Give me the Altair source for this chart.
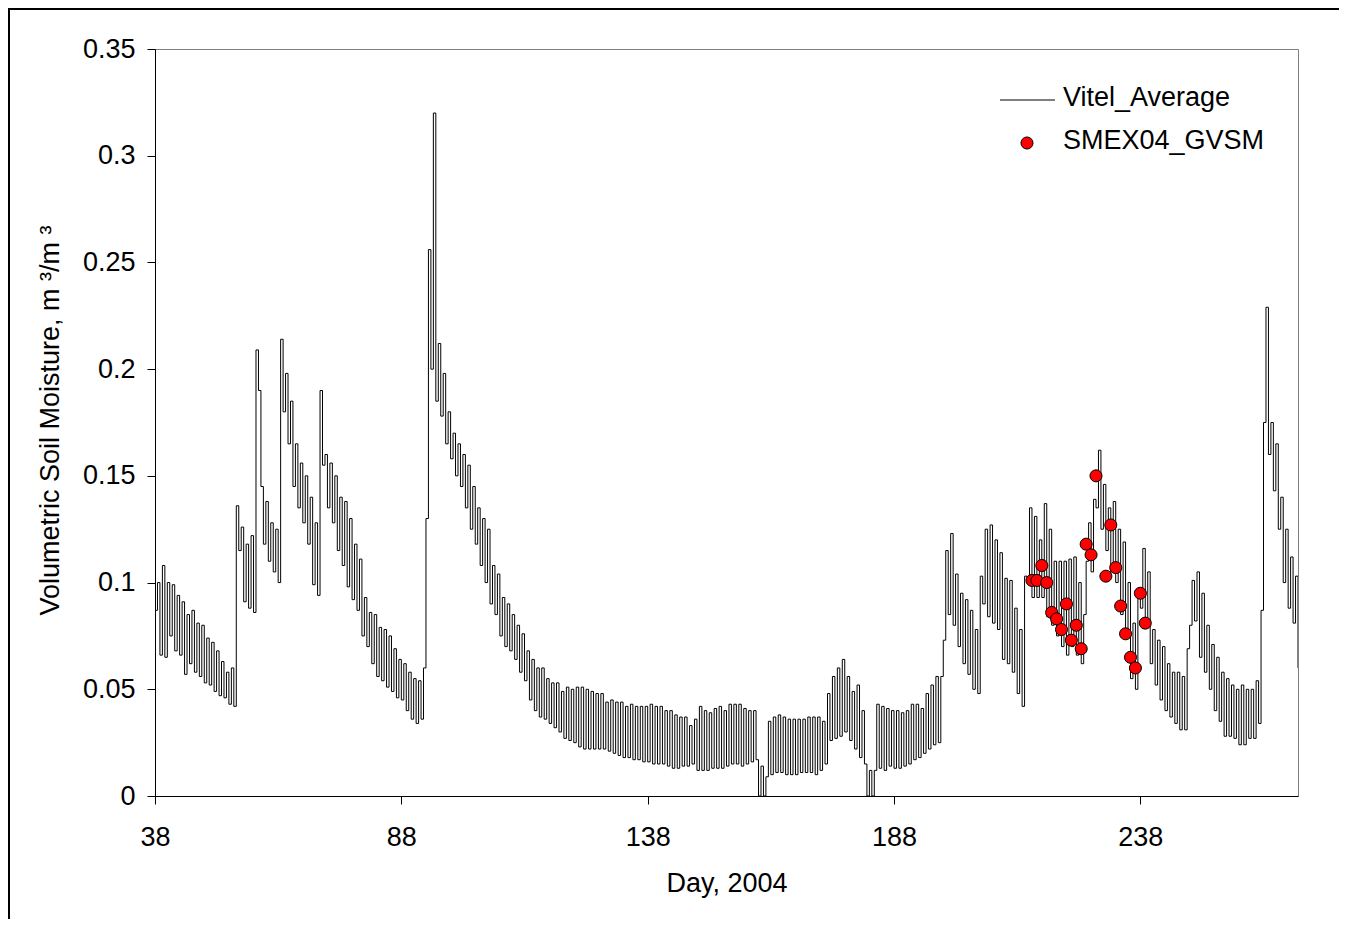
import altair as alt
import pandas as pd

# ---------------- data ----------------
# Day of year 38 .. 270; two readings per day (start of day, half a day later)
DAYS = list(range(38, 271))

VSM_START = [
    0.087, 0.066,                                                        # 38-39
    0.065, 0.075, 0.068, 0.066, 0.057, 0.062, 0.058, 0.056, 0.053, 0.052,  # 40-49
    0.049, 0.047, 0.046, 0.043, 0.042, 0.115, 0.091, 0.088, 0.086, 0.190,  # 50-59
    0.118, 0.110, 0.105, 0.100, 0.180, 0.165, 0.145, 0.135, 0.128, 0.118,  # 60-69
    0.099, 0.094, 0.155, 0.135, 0.128, 0.115, 0.108, 0.098, 0.092, 0.087,  # 70-79
    0.075, 0.070, 0.062, 0.056, 0.054, 0.051, 0.049, 0.046, 0.045, 0.040,  # 80-89
    0.036, 0.034, 0.036, 0.130, 0.200, 0.185, 0.178, 0.165, 0.158, 0.150,  # 90-99
    0.145, 0.135, 0.125, 0.118, 0.108, 0.100, 0.090, 0.085, 0.075, 0.070,  # 100-109
    0.068, 0.064, 0.058, 0.054, 0.045, 0.040, 0.037, 0.036, 0.034, 0.032,  # 110-119
    0.030, 0.027, 0.026, 0.025, 0.023, 0.022, 0.022, 0.022, 0.022, 0.022,  # 120-129
    0.021, 0.020, 0.019, 0.018, 0.018, 0.017, 0.017, 0.016, 0.016, 0.015,  # 130-139
    0.015, 0.015, 0.014, 0.013, 0.013, 0.014, 0.014, 0.015, 0.012, 0.012,  # 140-149
    0.012, 0.013, 0.013, 0.013, 0.014, 0.015, 0.015, 0.014, 0.015, 0.016,  # 150-159
    0.017, 0.014, 0.009, 0.010, 0.011, 0.011, 0.010, 0.010, 0.010, 0.011,  # 160-169
    0.011, 0.011, 0.010, 0.012, 0.015, 0.026, 0.027, 0.028, 0.030, 0.026,  # 170-179
    0.022, 0.018, 0.015, 0.012, 0.012, 0.013, 0.012, 0.014, 0.013, 0.013,  # 180-189
    0.014, 0.015, 0.017, 0.018, 0.020, 0.022, 0.024, 0.025, 0.073, 0.085,  # 190-199
    0.080, 0.070, 0.062, 0.057, 0.050, 0.048, 0.090, 0.084, 0.081, 0.078,  # 200-209
    0.064, 0.062, 0.058, 0.048, 0.042, 0.100, 0.093, 0.093, 0.093, 0.084,  # 210-219
    0.080, 0.075, 0.070, 0.066, 0.070, 0.066, 0.062, 0.110, 0.105, 0.135,  # 220-229
    0.125, 0.115, 0.105, 0.100, 0.085, 0.075, 0.055, 0.050, 0.088, 0.081,  # 230-239
    0.062, 0.052, 0.045, 0.040, 0.037, 0.034, 0.031, 0.031, 0.080, 0.082,  # 240-249
    0.065, 0.058, 0.050, 0.040, 0.035, 0.028, 0.028, 0.027, 0.024, 0.024,  # 250-259
    0.027, 0.027, 0.034, 0.175, 0.160, 0.143, 0.125, 0.100, 0.088, 0.081,  # 260-269
    0.060,                                                               # 270
]

VSM_HALF = [
    0.100, 0.108,                                                        # 38-39
    0.100, 0.099, 0.094, 0.091, 0.085, 0.087, 0.081, 0.080, 0.074, 0.072,  # 40-49
    0.068, 0.063, 0.058, 0.060, 0.136, 0.126, 0.118, 0.122, 0.209, 0.145,  # 50-59
    0.138, 0.128, 0.125, 0.214, 0.198, 0.185, 0.165, 0.156, 0.150, 0.140,  # 60-69
    0.128, 0.190, 0.160, 0.156, 0.150, 0.140, 0.138, 0.130, 0.118, 0.111,  # 70-79
    0.093, 0.086, 0.085, 0.079, 0.078, 0.075, 0.069, 0.064, 0.062, 0.058,  # 80-89
    0.055, 0.054, 0.060, 0.256, 0.320, 0.212, 0.198, 0.180, 0.170, 0.165,  # 90-99
    0.160, 0.155, 0.145, 0.135, 0.130, 0.125, 0.108, 0.104, 0.093, 0.090,  # 100-109
    0.085, 0.080, 0.076, 0.068, 0.064, 0.060, 0.060, 0.055, 0.053, 0.053,  # 110-119
    0.049, 0.051, 0.050, 0.051, 0.051, 0.050, 0.049, 0.048, 0.048, 0.044,  # 120-129
    0.045, 0.044, 0.044, 0.042, 0.043, 0.042, 0.042, 0.042, 0.043, 0.042,  # 130-139
    0.042, 0.040, 0.040, 0.038, 0.037, 0.037, 0.033, 0.036, 0.042, 0.040,  # 140-149
    0.039, 0.041, 0.042, 0.040, 0.043, 0.043, 0.043, 0.041, 0.040, 0.040,  # 150-159
    0.000, 0.000, 0.035, 0.037, 0.038, 0.037, 0.036, 0.036, 0.036, 0.036,  # 160-169
    0.037, 0.037, 0.037, 0.035, 0.048, 0.056, 0.060, 0.064, 0.056, 0.049,  # 170-179
    0.052, 0.040, 0.000, 0.000, 0.043, 0.042, 0.041, 0.040, 0.040, 0.039,  # 180-189
    0.040, 0.043, 0.043, 0.041, 0.048, 0.052, 0.056, 0.056, 0.115, 0.123,  # 190-199
    0.104, 0.095, 0.092, 0.087, 0.078, 0.103, 0.125, 0.127, 0.120, 0.114,  # 200-209
    0.102, 0.101, 0.088, 0.078, 0.103, 0.135, 0.131, 0.120, 0.137, 0.125,  # 210-219
    0.110, 0.110, 0.110, 0.111, 0.112, 0.100, 0.085, 0.128, 0.139, 0.162,  # 220-229
    0.146, 0.135, 0.138, 0.125, 0.119, 0.100, 0.081, 0.097, 0.116, 0.105,  # 230-239
    0.078, 0.073, 0.070, 0.062, 0.058, 0.058, 0.056, 0.069, 0.101, 0.105,  # 240-249
    0.095, 0.080, 0.071, 0.065, 0.058, 0.055, 0.052, 0.050, 0.052, 0.050,  # 250-259
    0.050, 0.054, 0.087, 0.229, 0.175, 0.165, 0.140, 0.125, 0.112, 0.103,  # 260-269
    0.060,                                                               # 270
]

# SMEX04 ground-based volumetric soil moisture samples
SMEX_DAYS = [216, 217, 218, 219, 220, 221, 222, 223, 224, 225, 226, 227, 228, 229,
             231, 232, 233, 234, 235, 236, 237, 238, 239]
SMEX_VSM = [0.101, 0.101, 0.108, 0.100, 0.086, 0.083, 0.078, 0.090, 0.073, 0.080,
            0.069, 0.118, 0.113, 0.150, 0.103, 0.127, 0.107, 0.089, 0.076, 0.065,
            0.060, 0.095, 0.081]

X_TICKS = [38, 88, 138, 188, 238]
Y_TICKS = [0, 0.05, 0.1, 0.15, 0.2, 0.25, 0.3, 0.35]

# ---------------- build tables ----------------
rows = []
for d, a, b in zip(DAYS, VSM_START, VSM_HALF):
    rows.append({"day": d, "vsm": a})
    rows.append({"day": d + 0.5, "vsm": b})
line_df = pd.DataFrame(rows)
pts_df = pd.DataFrame({"day": SMEX_DAYS, "vsm": SMEX_VSM})
one = pd.DataFrame({"k": [0]})

FONT = "Liberation Sans"
FS = 27
W, H = 1143, 747
DOT = 145

xenc = alt.X(
    "day:Q",
    scale=alt.Scale(domain=[38, 270], nice=False, zero=False),
    axis=alt.Axis(values=X_TICKS, title="Day, 2004", labelFlush=False,
                  labelOverlap=False, labelPadding=20, titleY=87,
                  titleBaseline="middle"),
)
yenc = alt.Y(
    "vsm:Q",
    scale=alt.Scale(domain=[0, 0.35], nice=False),
    axis=alt.Axis(values=Y_TICKS, format=".2~f",
                  title="Volumetric Soil Moisture, m \u00b3/m \u00b3",
                  labelFlush=False, labelOverlap=False, labelPadding=12,
                  titleX=-105, titleY=371, titleBaseline="middle"),
)

line = alt.Chart(line_df).mark_line(
    color="black", strokeWidth=1, interpolate="step-after", clip=True
).encode(x=xenc, y=yenc)

pts = alt.Chart(pts_df).mark_circle(
    color="#FF0000", stroke="black", strokeWidth=1, size=DOT, opacity=1
).encode(x="day:Q", y="vsm:Q")

# legend (drawn by hand, top right of plot area)
leg_line = alt.Chart(one).mark_rule(color="black", strokeWidth=1).encode(
    x=alt.value(845), x2=alt.value(900), y=alt.value(51)
)
leg_dot = alt.Chart(one).mark_circle(
    color="#FF0000", stroke="black", strokeWidth=1, size=DOT, opacity=1
).encode(x=alt.value(872), y=alt.value(94))
leg_t1 = alt.Chart(one).mark_text(
    align="left", baseline="middle", font=FONT, fontSize=FS, color="black"
).encode(x=alt.value(908), y=alt.value(49), text=alt.value("Vitel_Average"))
leg_t2 = alt.Chart(one).mark_text(
    align="left", baseline="middle", font=FONT, fontSize=FS, color="black"
).encode(x=alt.value(908), y=alt.value(92), text=alt.value("SMEX04_GVSM"))

# outer frame of the figure: only its left and top edges fall inside the picture
frame_left = alt.Chart(one).mark_rule(color="black", strokeWidth=2).encode(
    x=alt.value(-146), y=alt.value(-41), y2=alt.value(870)
)
frame_top = alt.Chart(one).mark_rule(color="black", strokeWidth=2).encode(
    x=alt.value(-147), x2=alt.value(1184), y=alt.value(-40)
)

chart = alt.layer(frame_left, frame_top, line, pts, leg_line, leg_dot,
                  leg_t1, leg_t2).properties(
    width=W, height=H, autosize="none",
    padding={"left": 147, "top": 41, "right": 42, "bottom": 124},
    background="white",
).configure_view(
    stroke="#808080", strokeWidth=1
).configure_axis(
    domainColor="black", tickColor="black", labelColor="black", titleColor="black",
    labelFont=FONT, titleFont=FONT, labelFontSize=FS, titleFontSize=FS,
    titleFontWeight="normal", grid=False, tickSize=8, domainWidth=1, tickWidth=1,
)

chart.save("out.html", embed_options={"renderer": "svg", "actions": False})
